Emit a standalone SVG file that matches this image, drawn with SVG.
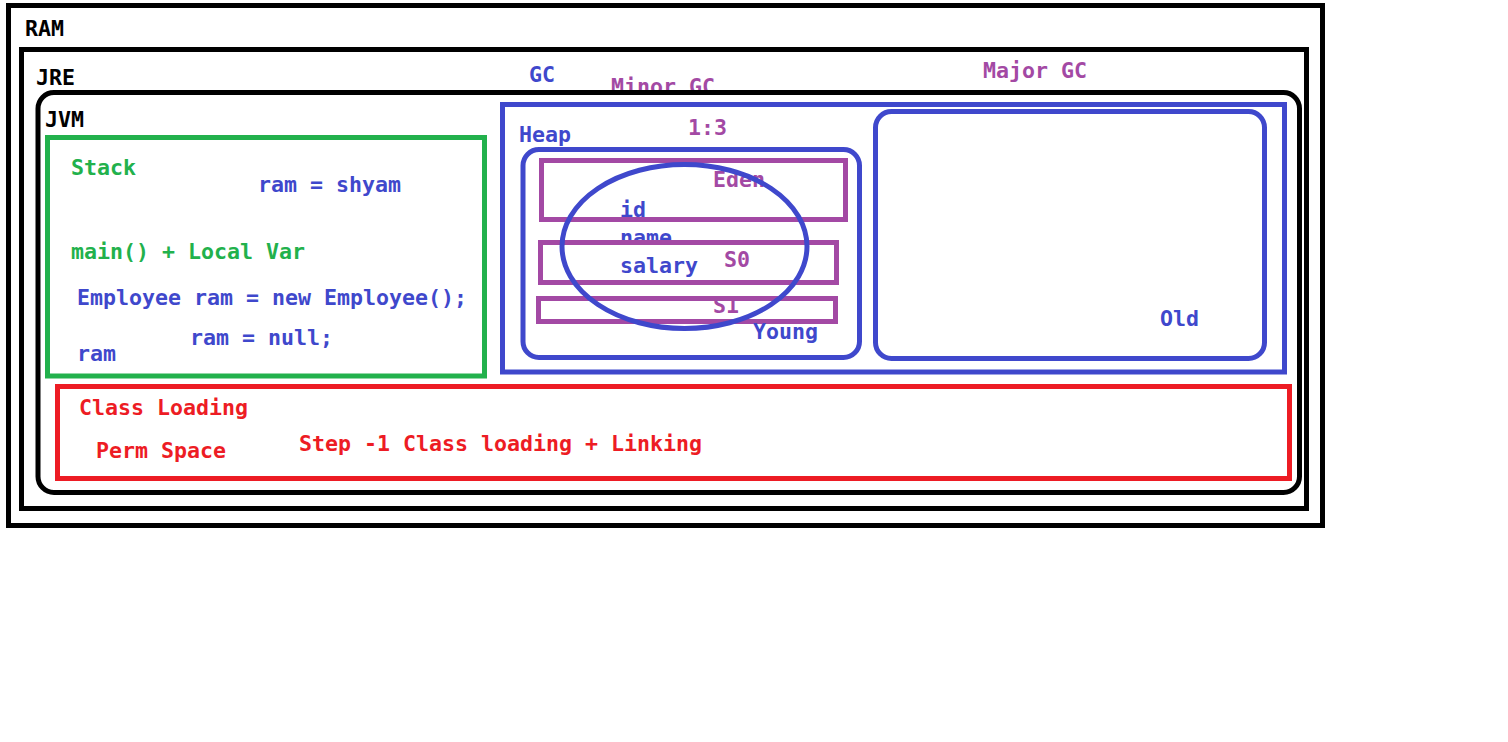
<svg xmlns="http://www.w3.org/2000/svg" width="1508" height="742" viewBox="0 0 1508 742">
<style>
text{font-family:"DejaVu Sans Mono","Liberation Mono",monospace;font-weight:bold;font-size:21.6px}
.k{fill:#000}.g{fill:#22b14c}.b{fill:#3f48cc}.p{fill:#a349a4}.r{fill:#ed1c24}
.sk{fill:none;stroke:#000;stroke-width:5}
.sg{fill:none;stroke:#22b14c;stroke-width:5}
.sb{fill:none;stroke:#3f48cc;stroke-width:5}
.sp{fill:none;stroke:#a349a4;stroke-width:5}
.sr{fill:none;stroke:#ed1c24;stroke-width:5}
</style>
<rect width="1508" height="742" fill="#fff"/>
<g id="ram">
<rect class="sk" x="8.5" y="5.5" width="1314" height="520"/>
<text class="k" x="25" y="36">RAM</text>
</g>
<g id="jre">
<rect class="sk" x="21.5" y="49.5" width="1285" height="459"/>
<text class="k" x="36" y="85">JRE</text>
</g>
<g id="gc-labels">
<text class="b" x="529" y="82">GC</text>
<text class="p" x="611" y="94">Minor GC</text>
<text class="p" x="983" y="78">Major GC</text>
</g>
<g id="jvm">
<rect class="sk" x="38" y="92.5" width="1261.5" height="400" rx="16"/>
<text class="k" x="45" y="127">JVM</text>
</g>
<g id="stack">
<rect class="sg" x="47.5" y="137.5" width="437" height="238.5"/>
<text class="g" x="71" y="175">Stack</text>
<text class="b" x="258" y="192">ram = shyam</text>
<text class="g" x="71" y="259">main() + Local Var</text>
<text class="b" x="77" y="305">Employee ram = new Employee();</text>
<text class="b" x="190" y="345">ram = null;</text>
<text class="b" x="77" y="361">ram</text>
</g>
<g id="heap">
<rect class="sb" x="502.5" y="104.5" width="782" height="267.5"/>
<text class="b" x="519" y="142">Heap</text>
<text class="p" x="688" y="135">1:3</text>
</g>
<g id="young">
<text class="p" x="713" y="187">Eden</text>
<text class="b" x="620" y="217">id</text>
<text class="b" x="620" y="245">name</text>
<text class="p" x="713" y="313">S1</text>
<rect class="sb" x="523" y="149.5" width="336.5" height="208" rx="16"/>
<rect class="sp" x="541.5" y="160.5" width="304" height="59"/>
<rect class="sp" x="540.5" y="242.5" width="296" height="40"/>
<rect class="sp" x="538.5" y="298.5" width="297" height="23"/>
<ellipse class="sb" cx="684.5" cy="246.5" rx="122.5" ry="82" stroke-width="4"/>
<text class="b" x="620" y="273">salary</text>
<text class="p" x="724" y="267">S0</text>
<text class="b" x="753" y="339">Young</text>
</g>
<g id="old">
<rect class="sb" x="875.5" y="111.5" width="389" height="247" rx="16"/>
<text class="b" x="1160" y="326">Old</text>
</g>
<g id="class-loading">
<rect class="sr" x="57.5" y="386.5" width="1232" height="92"/>
<text class="r" x="79" y="415">Class Loading</text>
<text class="r" x="96" y="458">Perm Space</text>
<text class="r" x="299" y="451">Step -1 Class loading + Linking</text>
</g>
<g id="connectors"/>
</svg>
